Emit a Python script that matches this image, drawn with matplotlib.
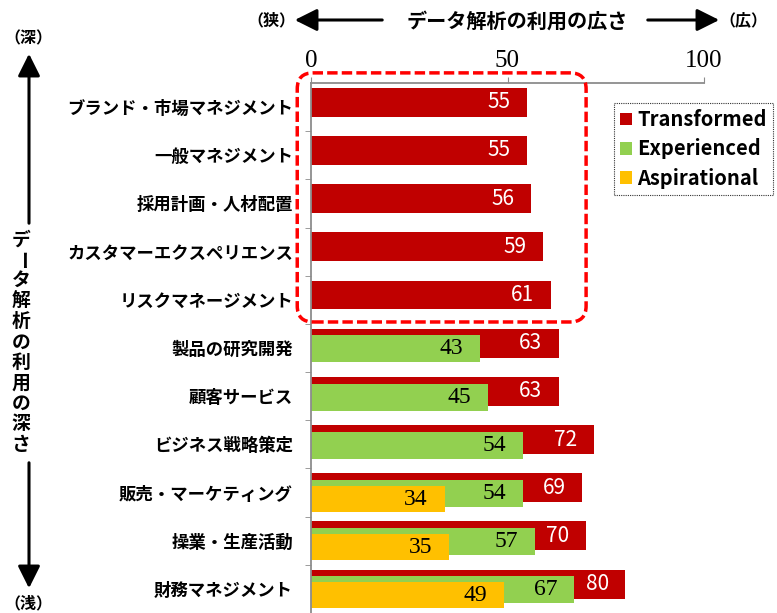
import numpy as np
import matplotlib.pyplot as plt
from matplotlib.patches import Patch, FancyBboxPatch, FancyArrowPatch
from matplotlib.transforms import IdentityTransform

# Data
categories = ['ブランド・市場マネジメント', '一般マネジメント', '採用計画・人材配置',
              'カスタマーエクスペリエンス', 'リスクマネージメント', '製品の研究開発',
              '顧客サービス', 'ビジネス戦略策定', '販売・マーケティング',
              '操業・生産活動', '財務マネジメント']
transformed = [55, 55, 56, 59, 61, 63, 63, 72, 69, 70, 80]
experienced = [None, None, None, None, None, 43, 45, 54, 54, 57, 67]
aspirational = [None, None, None, None, None, None, None, None, 34, 35, 49]
series_names = ['Transformed', 'Experienced', 'Aspirational']
x_ticks = [0, 50, 100]

colours = ['#C00000', '#92D050', '#FFC000']
JP = 'Noto Sans CJK JP'
SERIF = 'Liberation Serif'

W, H = 777, 613
fig = plt.figure(figsize=(W / 100, H / 100), dpi=100)
ax = fig.add_axes([311 / W, 0, 393 / W, 530 / H])

def fx(px):
    return px / W

def fy(py):
    return 1 - py / H

n = len(categories)
y = np.arange(n)
# (offset inside row, bar height) for each series
layout = [(-0.10, 0.60), (0.02, 0.56), (0.135, 0.54)]

for k, vals in enumerate([transformed, experienced, aspirational]):
    off, h = layout[k]
    for i, v in enumerate(vals):
        if v is None:
            continue
        ax.barh(y[i] + off, v, height=h, color=colours[k], edgecolor='none')
        if k == 0:
            ax.annotate(str(v), (v, y[i] + off), xytext=(-12, 0), textcoords='offset points',
                        ha='right', va='center', color='white', fontsize=15, family=JP)
        else:
            ax.annotate(str(v), (v, y[i] + off), xytext=(-12, 0), textcoords='offset points',
                        ha='right', va='center', color='black', fontsize=17, family=SERIF)

ax.set_xlim(0, 100)
ax.set_ylim(n - 0.5, -0.5)

ax.xaxis.tick_top()
ax.set_xticks(x_ticks)
ax.set_xticklabels([str(t) for t in x_ticks], fontsize=18, family=SERIF)
ax.tick_params(axis='x', direction='out', length=4, color='#8C8C8C', pad=4)

ax.set_yticks(y)
ax.set_yticklabels(categories, fontsize=12.5, family=JP, fontweight='bold')
ax.set_yticks(np.arange(n) + 0.5, minor=True)
ax.tick_params(axis='y', which='major', length=0, pad=13)
ax.tick_params(axis='y', which='minor', direction='out', length=4, color='#8C8C8C')

for s in ['right', 'bottom']:
    ax.spines[s].set_visible(False)
for s in ['left', 'top']:
    ax.spines[s].set_color('#8C8C8C')
    ax.spines[s].set_linewidth(1.3)

# Legend
handles = [Patch(facecolor=c, edgecolor='none') for c in colours]
leg = fig.legend(handles, series_names, loc='upper left', bbox_to_anchor=(fx(614), fy(103)),
                 prop={'family': JP, 'size': 14.5, 'weight': 'bold'},
                 handlelength=0.6, handleheight=0.6, handletextpad=0.25,
                 borderpad=0.3, labelspacing=0.42, fancybox=False, borderaxespad=0)
leg.get_frame().set_edgecolor('black')
leg.get_frame().set_linestyle((0, (1, 1)))
leg.get_frame().set_linewidth(0.8)

# Red dashed highlight round the top five rows
x0, y0 = ax.transData.transform((-3.5, -0.71))
x1, y1 = ax.transData.transform((max(transformed[:5]) + 9, 4.46))
box = FancyBboxPatch((x0, y1), x1 - x0, y0 - y1, boxstyle='round,pad=0,rounding_size=16',
                     transform=IdentityTransform(), fill=False, edgecolor='#FF0000',
                     linewidth=2.5, linestyle=(0, (3, 1.2)), clip_on=False)
fig.add_artist(box)

# Header: breadth arrows
fig.text(fx(517), fy(21), 'データ解析の利用の広さ', ha='center', va='center',
         fontsize=14.5, family=JP, fontweight='bold')
fig.text(fx(271), fy(20), '（狭）', ha='center', va='center', fontsize=11.5, family=JP, fontweight='bold')
fig.text(fx(743), fy(20), '（広）', ha='center', va='center', fontsize=11.5, family=JP, fontweight='bold')
arrow_kw = dict(arrowstyle='-|>,head_length=0.9,head_width=0.45', mutation_scale=15,
                color='black', linewidth=2.2, transform=fig.transFigure)
fig.add_artist(FancyArrowPatch((fx(385), fy(20)), (fx(292), fy(20)), **arrow_kw))
fig.add_artist(FancyArrowPatch((fx(645), fy(20)), (fx(722), fy(20)), **arrow_kw))

# Left: depth arrows and vertical title
fig.text(fx(28), fy(38), '（深）', ha='center', va='center', fontsize=11.5, family=JP, fontweight='bold')
fig.text(fx(28), fy(603), '（浅）', ha='center', va='center', fontsize=11.5, family=JP, fontweight='bold')
fig.add_artist(FancyArrowPatch((fx(29), fy(226)), (fx(29), fy(51)), **arrow_kw))
fig.add_artist(FancyArrowPatch((fx(29), fy(460)), (fx(29), fy(591)), **arrow_kw))
vtitle = 'データ解析の利用の深さ'
for i, ch in enumerate(vtitle):
    rot = -90 if ch == 'ー' else 0
    fig.text(fx(21), fy(240 + i * 20.4), ch, ha='center', va='center', rotation=rot,
             fontsize=13.5, family=JP, fontweight='bold')

fig.savefig('out.png', dpi=100)
